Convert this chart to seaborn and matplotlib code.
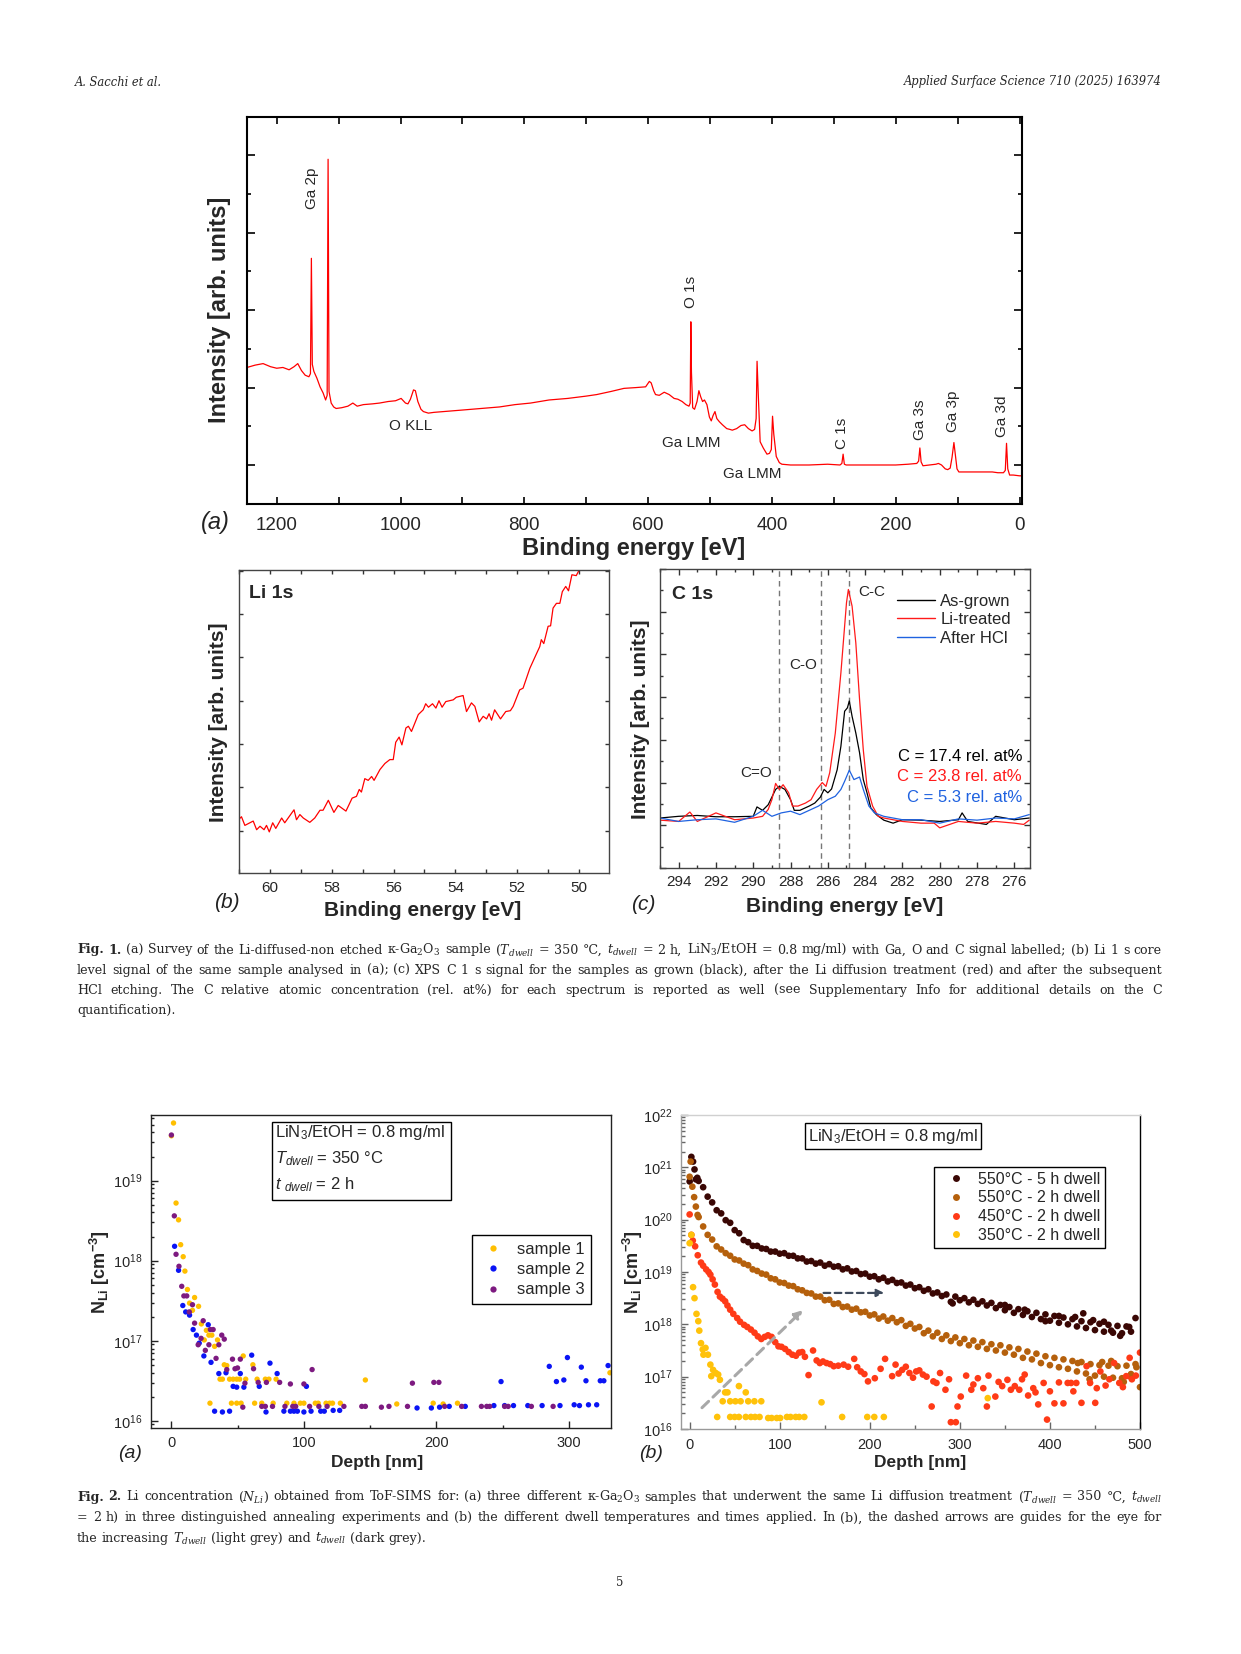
import matplotlib
matplotlib.use("Agg")
import numpy as np
import pandas as pd
import matplotlib.pyplot as plt
import matplotlib.patches as mpatches
from matplotlib.lines import Line2D
from matplotlib.ticker import MultipleLocator, LogLocator, NullFormatter, FixedLocator
import seaborn as sns

W, H = 1241, 1654

# ---------------- Fig. 1 data ----------------
# (a) survey: binding energy [eV], intensity [arb. units]
survey = [(1248, 1.26), (1235, 1.29), (1222, 1.31), (1210, 1.27), (1200, 1.25), (1190, 1.26),
          (1180, 1.23), (1172, 1.27), (1166, 1.31), (1160, 1.22), (1154, 1.16), (1148, 1.14),
          (1145.5, 1.18), (1144, 2.67), (1142.5, 1.30), (1140, 1.21), (1135, 1.12), (1130, 1.01),
          (1125, 0.93), (1121, 0.84), (1118.5, 0.90), (1117, 3.95), (1115.5, 0.95), (1112, 0.80),
          (1108, 0.75), (1104, 0.73), (1095, 0.74), (1085, 0.76), (1077, 0.80), (1070, 0.76),
          (1060, 0.78), (1045, 0.79), (1034, 0.80), (1020, 0.82), (1008, 0.83), (999, 0.86),
          (992, 0.80), (988, 0.79), (984, 0.85), (979, 0.97), (976, 0.96), (972, 0.82),
          (967, 0.72), (963, 0.69), (955, 0.67), (946, 0.68), (930, 0.69), (900, 0.71),
          (870, 0.73), (840, 0.75), (815, 0.78), (790, 0.80), (760, 0.84), (730, 0.86),
          (700, 0.89), (683, 0.91), (660, 0.95), (639, 0.99), (620, 1.00), (604, 1.01),
          (598, 1.08), (595, 1.06), (591, 0.96), (588, 0.91), (582, 0.90), (574, 0.94),
          (566, 0.91), (558, 0.86), (552, 0.85), (545, 0.82), (539, 0.78), (534, 0.76),
          (532, 0.80), (531, 1.85), (530, 1.20), (528, 0.74), (525, 0.72), (521, 0.82),
          (518, 0.96), (515, 0.88), (512, 0.82), (509, 0.84), (505, 0.78), (501, 0.62),
          (498, 0.57), (495, 0.64), (492, 0.69), (489, 0.60), (485, 0.56), (480, 0.52),
          (473, 0.47), (468, 0.46), (464, 0.45), (457, 0.47), (450, 0.51), (444, 0.52),
          (438, 0.47), (432, 0.44), (428, 0.46), (425.5, 0.60), (424, 1.34), (422, 0.90),
          (419, 0.30), (414, 0.22), (408, 0.14), (404, 0.15), (401, 0.20), (399, 0.63),
          (397, 0.40), (393, 0.11), (388, 0.03), (384, 0.01), (370, 0.00), (340, 0.00),
          (310, 0.01), (290, 0.00), (287, 0.02), (285, 0.14), (283, 0.01), (280, 0.00),
          (250, 0.00), (220, 0.00), (200, 0.00), (180, 0.01), (166, 0.02), (163, 0.05),
          (161, 0.22), (159, 0.04), (156, -0.01), (145, 0.00), (135, 0.01), (131, 0.02),
          (126, 0.00), (120, -0.05), (116, -0.06), (112, -0.04), (109, 0.10), (106, 0.29),
          (104, 0.15), (101, -0.05), (98, -0.09), (90, -0.09), (70, -0.09), (55, -0.09),
          (44, -0.09), (35, -0.10), (26, -0.10), (23, -0.07), (21, 0.28), (19, -0.05),
          (16, -0.13), (10, -0.13), (0, -0.14), (-4, -0.14)]

survey_labels = [("Ga 2p", 1143, 3.58, 90), ("O 1s", 530, 2.24, 90), ("O KLL", 983, 0.50, 0),
                 ("Ga LMM", 530, 0.29, 0), ("Ga LMM", 432, -0.11, 0), ("C 1s", 286, 0.41, 90),
                 ("Ga 3s", 160, 0.58, 90), ("Ga 3p", 108, 0.69, 90), ("Ga 3d", 28, 0.625, 90)]

# (b) Li 1s
li1s = [(60.99, 0.27), (60.92, 0.32), (60.81, 0.12), (60.54, 0.22), (60.43, 0.02), (60.32, 0.10),
        (60.19, 0.02), (60.11, 0.12), (60.02, -0.03), (59.91, 0.18), (59.81, 0.05), (59.62, 0.29),
        (59.52, 0.18), (59.35, 0.35), (59.22, 0.48), (59.14, 0.25), (59.03, 0.37), (58.92, 0.29),
        (58.71, 0.19), (58.55, 0.29), (58.38, 0.47), (58.28, 0.47), (58.11, 0.70), (57.93, 0.42),
        (57.79, 0.58), (57.54, 0.45), (57.34, 0.75), (57.20, 0.79), (57.11, 0.95), (57.04, 0.89),
        (56.93, 1.20), (56.82, 1.16), (56.71, 1.25), (56.63, 1.16), (56.44, 1.41), (56.28, 1.55),
        (56.12, 1.64), (56.01, 1.64), (55.93, 2.04), (55.82, 2.16), (55.73, 1.98), (55.60, 2.37),
        (55.52, 2.41), (55.42, 2.29), (55.20, 2.68), (55.04, 2.79), (54.96, 2.93), (54.87, 2.85),
        (54.74, 2.93), (54.63, 2.83), (54.53, 3.00), (54.43, 2.85), (54.31, 2.98), (54.07, 3.02),
        (53.97, 3.08), (53.75, 3.12), (53.64, 2.75), (53.48, 2.95), (53.37, 2.87), (53.23, 2.51),
        (53.10, 2.64), (52.99, 2.58), (52.91, 2.70), (52.83, 2.55), (52.73, 2.79), (52.54, 2.58),
        (52.37, 2.75), (52.22, 2.77), (52.13, 2.87), (51.92, 3.25), (51.81, 3.29), (51.59, 3.75),
        (51.38, 4.08), (51.27, 4.25), (51.22, 4.41), (51.14, 4.32), (51.00, 4.72), (50.92, 4.73),
        (50.84, 5.14), (50.73, 5.25), (50.62, 5.25), (50.54, 5.52), (50.43, 5.64), (50.34, 5.54),
        (50.23, 5.91), (50.09, 5.89), (49.98, 6.04)]

# (c) C 1s
c1s_grown = [(295, 0.17), (294, 0.21), (293, 0.23), (292, 0.20), (291, 0.20), (290, 0.21),
             (289.8, 0.43), (289.5, 0.35), (289.2, 0.48), (288.8, 0.84), (288.6, 0.91), (288.3, 0.84),
             (288.0, 0.60), (287.8, 0.35), (287.5, 0.35), (287.0, 0.45), (286.7, 0.52), (286.4, 0.66),
             (286.2, 0.84), (286.0, 0.76), (285.8, 0.85), (285.5, 1.30), (285.3, 1.85), (285.1, 2.67),
             (284.95, 2.75), (284.85, 2.91), (284.7, 2.55), (284.5, 2.16), (284.3, 1.70), (284.1, 1.07),
             (283.9, 0.76), (283.7, 0.41), (283.4, 0.25), (283.0, 0.12), (282.5, 0.05), (282.0, 0.13),
             (281, 0.12), (280, 0.09), (279, 0.13), (278.8, 0.29), (278.5, 0.09), (277.5, 0.02),
             (277, 0.21), (276, 0.13), (275.2, 0.17)]
c1s_li = [(295, 0.12), (294, 0.09), (293.4, 0.31), (293, 0.09), (292, 0.29), (291, 0.13), (290, 0.17),
          (289.5, 0.21), (289.2, 0.37), (289.0, 0.60), (288.8, 0.98), (288.6, 0.84), (288.4, 0.95),
          (288.1, 0.76), (287.9, 0.45), (287.6, 0.45), (287.2, 0.52), (286.9, 0.60), (286.6, 0.84),
          (286.3, 1.00), (286.1, 0.91), (285.9, 1.23), (285.6, 2.16), (285.3, 3.57), (285.0, 5.21),
          (284.9, 5.52), (284.7, 5.13), (284.5, 4.27), (284.3, 2.95), (284.1, 1.77), (283.9, 0.91),
          (283.6, 0.45), (283.3, 0.21), (283.0, 0.17), (282, 0.09), (281, 0.05), (280.3, 0.05),
          (280, -0.06), (279, 0.09), (278, 0.05), (277, 0.09), (276, 0.05), (275.5, 0.02), (275.2, 0.12)]
c1s_hcl = [(295, 0.17), (294, 0.09), (293, 0.13), (292, 0.15), (291, 0.07), (290, 0.21), (289.5, 0.35),
           (289, 0.21), (288.5, 0.29), (288, 0.33), (287.5, 0.25), (287, 0.35), (286.5, 0.45),
           (286.0, 0.60), (285.6, 0.68), (285.3, 0.84), (285.1, 1.03), (284.85, 1.29), (284.6, 1.07),
           (284.3, 1.13), (284.1, 0.84), (283.8, 0.45), (283.5, 0.29), (283.0, 0.21), (282, 0.13),
           (281, 0.13), (280, 0.05), (279, 0.15), (278, 0.12), (277, 0.17), (276, 0.15), (275.2, 0.25)]
c1s_names = ["As-grown", "Li-treated", "After HCl"]
c1s_colors = ["black", "#ff1a1a", "#1f62e0"]
c1s_conc = ["C = 17.4 rel. at%", "C = 23.8 rel. at%", "C = 5.3 rel. at%"]
c1s_peaks = [("C=O", 288.64, 289.82, 1.23), ("C-O", 286.35, 287.31, 3.75), ("C-C", 284.87, 283.65, 5.47)]
c1s_ticks = [294, 292, 290, 288, 286, 284, 282, 280, 278, 276]

# ---------------- Fig. 2 data: depth [nm], log10(N_Li [cm^-3]) ----------------
sample1 = [(0, 19.56), (1.6, 19.72), (3.5, 18.72), (5.4, 18.51), (7.0, 18.20), (8.9, 18.05), (10.2, 17.87),
           (12.1, 17.64), (13.7, 17.47), (15.9, 17.38), (17.5, 17.54), (20.5, 17.43), (22.6, 17.21),
           (24.8, 17.01), (26.4, 17.13), (28.3, 17.07), (30.5, 17.07), (32.6, 16.93), (34.8, 17.01),
           (36.7, 16.52), (38.5, 16.52), (39.9, 16.70), (41.8, 16.69), (43.9, 16.52), (46.6, 16.52),
           (49.3, 16.52), (51.5, 16.52), (54.2, 16.81), (56.1, 16.52), (61.5, 16.70), (64.7, 16.52),
           (70.9, 16.52), (73.6, 16.52), (79.0, 16.52), (29.1, 16.22), (45.3, 16.22), (49.3, 16.22),
           (52.6, 16.22), (62.8, 16.22), (68.2, 16.22), (76.8, 16.22), (87.1, 16.22), (92.5, 16.22),
           (97.3, 16.22), (100, 16.22), (108.6, 16.22), (110.8, 16.22), (116.7, 16.22), (119.4, 16.22),
           (121.6, 16.22), (127.5, 16.22), (146.4, 16.51), (170.1, 16.21), (197.6, 16.22), (205.1, 16.21),
           (215.9, 16.22), (331, 16.60)]
sample2 = [(2.4, 18.18), (5.4, 17.88), (8.6, 17.44), (10.8, 17.36), (13.7, 17.32), (16.4, 17.14), (18.9, 17.07),
           (21.0, 16.97), (24.5, 16.81), (27.8, 17.20), (29.9, 16.73), (35.8, 16.59), (41.2, 16.60),
           (46.6, 16.43), (49.3, 16.42), (52.0, 16.59), (54.7, 16.42), (60.6, 16.82), (66.3, 16.43),
           (74.4, 16.72), (79.8, 16.59), (101.9, 16.43), (32.6, 16.12), (38.5, 16.11), (43.9, 16.12),
           (71.4, 16.11), (84.9, 16.12), (89.8, 16.12), (92.5, 16.12), (95.1, 16.12), (100, 16.11),
           (105.4, 16.12), (112.7, 16.12), (115.4, 16.12), (122.1, 16.13), (127, 16.13), (185.4, 16.16),
           (196.2, 16.16), (202.4, 16.17), (209.7, 16.18), (221.8, 16.18), (243.4, 16.19), (251.5, 16.19),
           (258.2, 16.19), (269, 16.19), (279.8, 16.19), (293.3, 16.19), (304, 16.20), (308, 16.19),
           (314.8, 16.20), (321, 16.20), (248.8, 16.49), (285.2, 16.68), (290.6, 16.49), (296.2, 16.51),
           (298.9, 16.79), (309.4, 16.67), (312.9, 16.50), (323.7, 16.50), (326.4, 16.50), (329.6, 16.69)]
sample3 = [(0, 19.57), (2.2, 18.56), (3.5, 18.08), (5.7, 17.93), (7.8, 17.68), (9.4, 17.56), (11.6, 17.56),
           (13.5, 17.36), (15.9, 17.45), (17.5, 17.22), (20.2, 16.95), (22.4, 17.03), (24.0, 17.25),
           (25.6, 16.88), (28.3, 16.95), (29.4, 17.14), (31.5, 17.14), (33.7, 16.78), (35.8, 16.95),
           (38.0, 17.07), (39.9, 17.02), (41.8, 16.64), (46.1, 16.77), (48.0, 16.65), (49.9, 16.66),
           (52.0, 16.77), (55.5, 16.47), (62.0, 16.65), (65.5, 16.48), (71.7, 16.48), (81.7, 16.48),
           (89.8, 16.46), (100, 16.46), (106.2, 16.64), (53.9, 16.17), (68.2, 16.18), (70.9, 16.18),
           (76.3, 16.18), (85.7, 16.18), (91.6, 16.18), (93.8, 16.18), (104.3, 16.18), (111.3, 16.18),
           (117.5, 16.18), (130.2, 16.18), (143.7, 16.18), (146.4, 16.18), (158.5, 16.17), (164.2, 16.18),
           (178.2, 16.18), (181.9, 16.47), (198.1, 16.48), (201.9, 16.48), (206.2, 16.18), (219.1, 16.18),
           (234, 16.18), (238, 16.18), (240.2, 16.18), (251.5, 16.18), (254.2, 16.18), (271.7, 16.18),
           (288.1, 16.18)]
samples_a = {"sample 1": sample1, "sample 2": sample2, "sample 3": sample3}
colors_a = {"sample 1": "#ffbf00", "sample 2": "#0a14f5", "sample 3": "#7d1a80"}

t550_5h = [(0, 20.73), (1.9, 21.20), (3.8, 21.11), (5.4, 20.96), (6.9, 20.77), (8.5, 20.80), (10, 20.74),
           (15, 20.62), (20, 20.44), (25, 20.33), (30, 20.18), (35, 20.12), (40, 19.99), (45, 19.94),
           (50, 19.80), (55, 19.74), (60, 19.61), (65, 19.57), (70, 19.50), (75, 19.50), (80, 19.45),
           (85, 19.44), (90, 19.39), (95, 19.39), (100, 19.35), (105, 19.36), (110, 19.31), (115, 19.31),
           (120, 19.26), (125, 19.26), (130, 19.20), (135, 19.21), (140, 19.16), (145, 19.18), (150, 19.12),
           (155, 19.15), (160, 19.10), (165, 19.11), (170, 19.05), (175, 19.07), (180, 19.01), (185, 19.02),
           (190, 18.96), (195, 18.97), (200, 18.91), (205, 18.92), (210, 18.86), (215, 18.89), (220, 18.82),
           (225, 18.85), (230, 18.79), (235, 18.80), (240, 18.74), (245, 18.76), (250, 18.69), (255, 18.71),
           (260, 18.64), (265, 18.67), (270, 18.59), (275, 18.61), (280, 18.54), (285, 18.57), (290, 18.43),
           (295, 18.53), (300, 18.46), (305, 18.50), (310, 18.42), (315, 18.47), (320, 18.39), (325, 18.44),
           (330, 18.36), (335, 18.41), (340, 18.31), (345, 18.37), (350, 18.27), (355, 18.33), (360, 18.22),
           (365, 18.29), (370, 18.18), (375, 18.25), (380, 18.14), (385, 18.22), (390, 18.10), (395, 18.19),
           (400, 18.07), (405, 18.16), (410, 18.03), (415, 18.13), (420, 18.00), (425, 18.10), (430, 17.96),
           (435, 18.06), (440, 17.93), (445, 18.04), (450, 17.89), (455, 18.01), (460, 17.86), (465, 17.99),
           (470, 17.84), (475, 17.97), (480, 17.83), (485, 17.96), (490, 17.86), (495, 18.12), (437, 18.21),
           (292, 18.40), (410, 18.16), (460, 18.05), (478, 17.78), (488, 17.95), (468, 17.88), (448, 18.08),
           (428, 18.14), (395, 18.06), (372, 18.28), (350, 18.37)]
t550_2h = [(0, 20.82), (1.1, 21.11), (3, 20.63), (5, 20.43), (6.9, 20.25), (8.8, 20.09), (10, 20.05),
           (15, 19.87), (20, 19.71), (25, 19.62), (30, 19.49), (35, 19.43), (40, 19.36), (45, 19.31),
           (50, 19.24), (55, 19.22), (60, 19.16), (65, 19.13), (70, 19.05), (75, 19.02), (80, 18.97),
           (85, 18.95), (90, 18.88), (95, 18.86), (100, 18.80), (105, 18.79), (110, 18.74), (115, 18.73),
           (120, 18.67), (125, 18.65), (130, 18.60), (135, 18.59), (140, 18.53), (145, 18.53), (150, 18.46),
           (155, 18.47), (160, 18.39), (165, 18.40), (170, 18.33), (175, 18.34), (180, 18.28), (185, 18.30),
           (190, 18.23), (195, 18.24), (200, 18.17), (205, 18.19), (210, 18.11), (215, 18.15), (220, 18.07),
           (225, 18.12), (230, 18.04), (235, 18.08), (240, 17.97), (245, 18.01), (250, 17.92), (255, 17.95),
           (260, 17.83), (265, 17.88), (270, 17.77), (275, 17.84), (280, 17.72), (285, 17.79), (290, 17.68),
           (295, 17.75), (300, 17.64), (305, 17.72), (310, 17.60), (315, 17.69), (320, 17.57), (325, 17.66),
           (330, 17.53), (335, 17.62), (340, 17.50), (345, 17.60), (350, 17.46), (355, 17.56), (360, 17.42),
           (365, 17.53), (370, 17.36), (375, 17.48), (380, 17.33), (385, 17.44), (390, 17.26), (395, 17.39),
           (400, 17.22), (405, 17.36), (410, 17.18), (415, 17.33), (420, 17.15), (425, 17.30), (430, 17.10),
           (435, 17.28), (440, 17.06), (445, 17.24), (450, 17.02), (455, 17.22), (460, 17.00), (465, 17.21),
           (470, 16.98), (475, 17.20), (480, 16.97), (485, 17.21), (490, 16.99), (495, 17.24), (500, 16.80),
           (468, 17.30), (482, 16.90), (458, 17.28), (444, 16.95), (431, 17.26), (490, 17.05), (496, 17.18)]
t450_2h = [(0, 20.10), (1.9, 19.71), (3.5, 19.60), (6.1, 19.49), (9, 19.32), (12.6, 19.18), (15, 19.12),
           (18.3, 19.05), (21, 19.00), (23, 18.95), (25.5, 18.86), (28, 18.76), (31, 18.62), (33.6, 18.53),
           (36.5, 18.49), (39.4, 18.44), (42, 18.36), (45, 18.28), (48.5, 18.20), (52.8, 18.12), (56, 18.05),
           (60.4, 17.99), (64, 17.95), (68, 17.90), (72, 17.84), (75.7, 17.77), (79.5, 17.72), (83.3, 17.76),
           (87, 17.79), (91, 17.76), (95, 17.66), (98.6, 17.58), (102, 17.57), (106, 17.53), (110, 17.47),
           (114, 17.42), (118, 17.40), (121.6, 17.46), (125, 17.47), (128, 17.38), (132, 17.03), (137, 17.50),
           (141, 17.31), (144.5, 17.26), (148, 17.29), (152, 17.26), (156, 17.24), (160, 17.20), (165, 17.21),
           (171, 17.23), (176, 17.19), (182.7, 17.34), (186, 17.18), (190, 17.10), (194, 17.05), (198, 16.91),
           (205.6, 16.97), (212, 17.15), (217, 17.34), (224.8, 17.01), (228.6, 17.23), (232, 17.06),
           (236, 17.13), (240, 17.19), (244, 17.07), (248, 16.98), (251.5, 17.10), (255, 17.12), (259, 17.04),
           (263, 17.00), (268.7, 16.43), (270.6, 16.91), (274, 16.88), (278, 17.07), (284, 16.75),
           (288, 16.95), (290, 16.13), (295.5, 16.13), (297.4, 16.43), (301, 16.62), (307, 17.02),
           (312.7, 16.75), (315, 16.85), (320, 16.97), (326, 16.78), (330, 16.43), (331.8, 17.02),
           (339.4, 16.62), (343, 16.90), (347, 16.82), (352.8, 16.94), (356.6, 16.75), (361, 16.82),
           (366, 16.75), (369, 16.95), (372, 17.04), (375.8, 16.64), (381.5, 16.78), (384, 16.70),
           (387, 16.47), (393, 16.88), (396.8, 16.18), (400, 16.72), (405, 16.49), (410, 16.89), (415, 16.49),
           (419.7, 16.88), (423.5, 16.88), (426, 16.72), (429.3, 16.88), (435, 16.50), (440.7, 17.20),
           (444.6, 16.88), (450.3, 16.50), (452, 16.78), (456, 17.10), (461.8, 16.83), (466, 16.95),
           (471.3, 17.26), (477, 16.88), (481, 16.80), (484.7, 17.01), (488.5, 17.36), (491, 16.95),
           (495.4, 17.02), (500, 17.46)]
t350_2h = [(0, 19.55), (1.9, 19.71), (3.8, 18.71), (5.4, 18.50), (7.6, 18.20), (9.6, 18.06), (10.7, 17.88),
           (12.6, 17.64), (14.5, 17.52), (15.3, 17.42), (17.6, 17.55), (20.3, 17.42), (23, 17.23), (24, 17.01),
           (26, 17.13), (29, 17.07), (31.7, 17.04), (33.6, 16.94), (36.7, 16.53), (39.4, 16.70), (42, 16.70),
           (45, 16.53), (50.8, 16.53), (54.7, 16.82), (56.6, 16.53), (62.3, 16.70), (65, 16.53), (71.9, 16.53),
           (79.5, 16.53), (30.6, 16.23), (45, 16.23), (50, 16.23), (54.7, 16.23), (62.3, 16.23), (68, 16.23),
           (72.6, 16.23), (77.6, 16.23), (87.2, 16.21), (91, 16.21), (96.7, 16.21), (100.5, 16.21),
           (108, 16.23), (112, 16.23), (117.7, 16.23), (121.6, 16.23), (127.3, 16.23), (146.4, 16.51),
           (169.3, 16.23), (197.2, 16.23), (205, 16.23), (215.6, 16.23), (331, 16.59)]
series_b = {"550°C - 5 h dwell": t550_5h, "550°C - 2 h dwell": t550_2h,
            "450°C - 2 h dwell": t450_2h, "350°C - 2 h dwell": t350_2h}
colors_b = {"550°C - 5 h dwell": "#3a0704", "550°C - 2 h dwell": "#b5600c",
            "450°C - 2 h dwell": "#ff3a17", "350°C - 2 h dwell": "#ffc20a"}

cap1 = ["Fig. 1. (a) Survey of the Li-diffused-non etched κ-Ga$_2$O$_3$ sample ($T_{dwell}$ = 350 °C, $t_{dwell}$ = 2 h, LiN$_3$/EtOH = 0.8 mg/ml) with Ga, O and C signal labelled; (b) Li 1 s core",
        "level signal of the same sample analysed in (a); (c) XPS C 1 s signal for the samples as grown (black), after the Li diffusion treatment (red) and after the subsequent",
        "HCl etching. The C relative atomic concentration (rel. at%) for each spectrum is reported as well (see Supplementary Info for additional details on the C",
        "quantification)."]
cap2 = ["Fig. 2. Li concentration ($N_{Li}$) obtained from ToF-SIMS for: (a) three different κ-Ga$_2$O$_3$ samples that underwent the same Li diffusion treatment ($T_{dwell}$ = 350 °C, $t_{dwell}$",
        "= 2 h) in three distinguished annealing experiments and (b) the different dwell temperatures and times applied. In (b), the dashed arrows are guides for the eye for",
        "the increasing $T_{dwell}$ (light grey) and $t_{dwell}$ (dark grey)."]

# ---------------- style ----------------
sns.set_style("ticks")
plt.rcParams["font.family"] = ["Liberation Sans", "DejaVu Sans"]
plt.rcParams["mathtext.fontset"] = "custom"
plt.rcParams["mathtext.rm"] = "Liberation Sans"
plt.rcParams["mathtext.it"] = "Liberation Sans:italic"
plt.rcParams["mathtext.bf"] = "Liberation Sans:bold"

fig = plt.figure(figsize=(W / 100, H / 100), dpi=100)
fig.patch.set_facecolor("white")


def add_box(x0, y0, x1, y1):
    return fig.add_axes([x0 / W, 1 - y1 / H, (x1 - x0) / W, (y1 - y0) / H])


def ftext(x, y, s, **kw):
    return fig.text(x / W, 1 - y / H, s, **kw)


def frame(ax, color, lw):
    for sp in ax.spines.values():
        sp.set_visible(True)
        sp.set_color(color)
        sp.set_linewidth(lw)


def xy(points):
    return [p[0] for p in points], [p[1] for p in points]


# ---------------- Fig. 1 (a) ----------------
ax = add_box(247, 117, 1022, 504)
bx, by = xy(survey)
sns.lineplot(x=bx, y=by, ax=ax, color="#ff0000", lw=0.9, sort=False, estimator=None)
ax.set_xlim(1248, -4)
ax.set_ylim(-0.504, 4.496)
ax.xaxis.set_major_locator(MultipleLocator(200))
ax.xaxis.set_minor_locator(MultipleLocator(100))
ax.yaxis.set_major_locator(MultipleLocator(1))
ax.yaxis.set_minor_locator(MultipleLocator(0.5))
ax.tick_params(which="both", direction="in", top=True, right=True, labelleft=False, width=1.2, color="black")
ax.tick_params(axis="x", which="both", length=5, labelsize=13.5, pad=9)
ax.tick_params(axis="y", which="major", length=6)
ax.tick_params(axis="y", which="minor", length=3)
frame(ax, "black", 1.5)
ax.set_xlabel("")
ax.set_ylabel("")
for name, ex, ey, rot in survey_labels:
    ax.text(ex, ey, name, rotation=rot, ha="center", va="center", fontsize=11)
ftext(220, 310, "Intensity [arb. units]", rotation=90, ha="center", va="center", fontsize=17, fontweight="bold")
ftext(634, 548, "Binding energy [eV]", ha="center", va="center", fontsize=17, fontweight="bold")
ftext(215, 523, "(a)", ha="center", va="center", fontsize=17, style="italic", color="#222222")

# ---------------- Fig. 1 (b) ----------------
ax = add_box(239, 570, 609, 873)
lx, ly = xy(li1s)
sns.lineplot(x=lx, y=ly, ax=ax, color="#ff0000", lw=0.9, sort=False, estimator=None)
ax.set_xlim(61.0, 49.03)
ax.set_ylim(-0.98, 6.02)
ax.xaxis.set_major_locator(MultipleLocator(2))
ax.xaxis.set_minor_locator(MultipleLocator(1))
ax.yaxis.set_major_locator(MultipleLocator(1))
ax.tick_params(which="both", direction="in", top=True, right=True, labelleft=False, length=3,
               width=1, color="#333333", labelsize=11, pad=6)
frame(ax, "#444444", 1.0)
ax.set_xlabel("")
ax.set_ylabel("")
ftext(249, 593, "Li 1s", ha="left", va="center", fontsize=14, fontweight="bold")
ftext(219, 722, "Intensity [arb. units]", rotation=90, ha="center", va="center", fontsize=15, fontweight="bold")
ftext(423, 910, "Binding energy [eV]", ha="center", va="center", fontsize=15, fontweight="bold")
ftext(227, 902, "(b)", ha="center", va="center", fontsize=15, style="italic", color="#222222")

# ---------------- Fig. 1 (c) ----------------
axc = add_box(660, 569, 1030, 868)
for pts, name, col in zip([c1s_grown, c1s_li, c1s_hcl], c1s_names, c1s_colors):
    cx, cy = xy(pts)
    sns.lineplot(x=cx, y=cy, ax=axc, color=col, lw=0.9, sort=False, estimator=None)
for _, xv, _, _ in c1s_peaks:
    axc.axvline(xv, color="#777777", ls=(0, (4, 3)), lw=1.0, zorder=1)
axc.set_xlim(295.0, 275.16)
axc.set_ylim(-1.0, 6.0)
axc.xaxis.set_major_locator(FixedLocator(c1s_ticks))
axc.set_xticklabels([str(t) for t in c1s_ticks])
axc.xaxis.set_minor_locator(MultipleLocator(1))
axc.yaxis.set_major_locator(MultipleLocator(1))
axc.yaxis.set_minor_locator(MultipleLocator(0.5))
axc.tick_params(which="both", direction="in", top=True, right=True, bottom=True, left=True,
                labelleft=False, labelbottom=True, width=1, color="#333333", labelsize=11, pad=5)
axc.tick_params(which="major", length=4)
axc.tick_params(which="minor", length=2.5)
frame(axc, "#444444", 1.0)
axc.set_xlabel("")
axc.set_ylabel("")
for name, _, tx, ty in c1s_peaks:
    axc.text(tx, ty, name, ha="center", va="center", fontsize=11)
handles = [Line2D([], [], color=c, lw=1.0) for c in c1s_colors]
axc.legend(handles, c1s_names, loc="upper left", bbox_to_anchor=(897 / W, 1 - 594 / H),
           bbox_transform=fig.transFigure, frameon=False, fontsize=12, handlelength=2.3,
           handletextpad=0.3, labelspacing=0.2, borderpad=0, borderaxespad=0)
for txt, col, yy in zip(c1s_conc, c1s_colors, [756, 777, 797]):
    ftext(1022, yy, txt, ha="right", va="center", fontsize=12, color=col)
ftext(672, 595, "C 1s", ha="left", va="center", fontsize=14, fontweight="bold")
ftext(641, 719, "Intensity [arb. units]", rotation=90, ha="center", va="center", fontsize=15, fontweight="bold")
ftext(845, 907, "Binding energy [eV]", ha="center", va="center", fontsize=15, fontweight="bold")
ftext(643, 905, "(c)", ha="center", va="center", fontsize=15, style="italic", color="#222222")

# ---------------- Fig. 2 (a) ----------------
ax = add_box(151, 1115, 611, 1428)
rows = []
for name, pts in samples_a.items():
    for d, lg in pts:
        rows.append({"depth": d, "N": 10 ** lg, "sample": name})
dfa = pd.DataFrame(rows)
sns.scatterplot(data=dfa, x="depth", y="N", hue="sample", palette=colors_a, s=15, linewidth=0,
                legend=False, ax=ax)
ax.set_yscale("log")
ax.set_xlim(-15.4, 331.8)
ax.set_ylim(10 ** 15.91, 10 ** 19.82)
ax.xaxis.set_major_locator(MultipleLocator(100))
ax.xaxis.set_minor_locator(MultipleLocator(50))
ax.yaxis.set_major_locator(LogLocator(base=10))
ax.yaxis.set_minor_locator(LogLocator(base=10, subs=np.arange(2, 10)))
ax.yaxis.set_minor_formatter(NullFormatter())
ax.tick_params(which="both", direction="in", labelsize=10.5, pad=6, color="#222222", width=1)
ax.tick_params(which="major", length=5)
ax.tick_params(which="minor", length=2.5)
frame(ax, "#222222", 1.0)
ax.set_xlabel("")
ax.set_ylabel("")
handles = [Line2D([], [], ls="none", marker="o", ms=4.5, mfc=c, mec="none") for c in colors_a.values()]
leg = ax.legend(handles, list(colors_a.keys()), loc="upper left", bbox_to_anchor=(472 / W, 1 - 1235 / H),
                bbox_transform=fig.transFigure, fontsize=12, frameon=True, fancybox=False,
                edgecolor="black", framealpha=1, borderpad=0.4, handlelength=1.7, handletextpad=0.6,
                labelspacing=0.32, borderaxespad=0)
leg.get_frame().set_linewidth(1.0)
fig.add_artist(mpatches.Rectangle((272 / W, 1 - 1200 / H), 179 / W, 78 / H, transform=fig.transFigure,
                                  fill=False, ec="black", lw=1.0))
ftext(275, 1133, "LiN$_3$/EtOH = 0.8 mg/ml", ha="left", va="center", fontsize=12)
ftext(275, 1159, "$T_{dwell}$ = 350 °C", ha="left", va="center", fontsize=12)
ftext(275, 1185, r"$t\ _{dwell}$ = 2 h", ha="left", va="center", fontsize=12)
ftext(100, 1272, r"$\mathbf{N_{Li}\ [cm^{-3}]}$", rotation=90, ha="center", va="center", fontsize=13)
ftext(377, 1462, "Depth [nm]", ha="center", va="center", fontsize=12.5, fontweight="bold")
ftext(130, 1453, "(a)", ha="center", va="center", fontsize=14, style="italic", color="#222222")

# ---------------- Fig. 2 (b) ----------------
ax = add_box(681, 1115, 1140, 1429)
rows = []
for name, pts in series_b.items():
    for d, lg in pts:
        rows.append({"depth": d, "N": 10 ** lg, "series": name})
dfb = pd.DataFrame(rows)
sns.scatterplot(data=dfb, x="depth", y="N", hue="series", palette=colors_b, s=23, linewidth=0,
                legend=False, ax=ax)
ax.set_yscale("log")
ax.set_xlim(-9.6, 500)
ax.set_ylim(1e16, 1e22)
ax.xaxis.set_major_locator(MultipleLocator(100))
ax.xaxis.set_minor_locator(MultipleLocator(50))
ax.yaxis.set_major_locator(LogLocator(base=10))
ax.yaxis.set_minor_locator(LogLocator(base=10, subs=np.arange(2, 10)))
ax.yaxis.set_minor_formatter(NullFormatter())
ax.tick_params(which="both", direction="in", labelsize=10.5, pad=6.5, color="#666666", width=1)
ax.tick_params(which="major", length=5)
ax.tick_params(which="minor", length=3)
frame(ax, "#999999", 1.0)
ax.spines["top"].set_color("#d0d0d0")
ax.spines["right"].set_color("black")
ax.set_xlabel("")
ax.set_ylabel("")
ax.annotate("", xy=(128, 10 ** 18.31), xytext=(11.5, 10 ** 16.37),
            arrowprops=dict(arrowstyle="-|>", color="#a8a8a8", lw=2.2, ls=(0, (3, 2)), mutation_scale=12))
ax.annotate("", xy=(219, 10 ** 18.60), xytext=(145.6, 10 ** 18.60),
            arrowprops=dict(arrowstyle="-|>", color="#3e4a5c", lw=1.6, ls=(0, (3, 2)), mutation_scale=11))
handles = [Line2D([], [], ls="none", marker="o", ms=5, mfc=c, mec="none") for c in colors_b.values()]
leg = ax.legend(handles, list(colors_b.keys()), loc="upper left", bbox_to_anchor=(934 / W, 1 - 1167 / H),
                bbox_transform=fig.transFigure, fontsize=11.5, frameon=True, fancybox=False,
                edgecolor="black", framealpha=1, borderpad=0.3, handlelength=2.15, handletextpad=0.3,
                labelspacing=0.23, borderaxespad=0)
leg.get_frame().set_linewidth(1.0)
ftext(893, 1136, "LiN$_3$/EtOH = 0.8 mg/ml", ha="center", va="center", fontsize=12,
      bbox=dict(boxstyle="square,pad=0.2", fc="white", ec="black", lw=1.0))
ftext(633, 1272, r"$\mathbf{N_{Li}\ [cm^{-3}]}$", rotation=90, ha="center", va="center", fontsize=13)
ftext(920, 1462, "Depth [nm]", ha="center", va="center", fontsize=12.5, fontweight="bold")
ftext(651, 1453, "(b)", ha="center", va="center", fontsize=14, style="italic", color="#222222")

# ---------------- page text ----------------
serif = dict(family="DejaVu Serif", math_fontfamily="dejavuserif", va="center")
ftext(75, 82, "A. Sacchi et al.", ha="left", fontsize=8.3, style="italic", **serif)
ftext(1162, 82, "Applied Surface Science 710 (2025) 163974", ha="right", fontsize=8.3, style="italic", **serif)
ftext(620, 1583, "5", ha="center", fontsize=8.3, **serif)

renderer = fig.canvas.get_renderer()


def justify(y, line, last=False, x0=77, x1=1162, size=9.1):
    words = line.split(" ")
    arts = []
    for i, w in enumerate(words):
        bold = words[0] == "Fig." and i < 2
        arts.append(ftext(x0, y, w, ha="left", fontsize=size, fontweight="bold" if bold else "normal", **serif))
    widths = [t.get_window_extent(renderer).width for t in arts]
    if last or len(words) < 2:
        gap = size * 100 / 72 * 0.32
    else:
        gap = max((x1 - x0 - sum(widths)) / (len(words) - 1), 1.5)
    x = x0
    for t, w in zip(arts, widths):
        t.set_x(x / W)
        x += w + gap


for i, line in enumerate(cap1):
    justify(950 + 20.3 * i, line, last=(i == len(cap1) - 1))
for i, line in enumerate(cap2):
    justify(1497 + 20.8 * i, line, last=(i == len(cap2) - 1))

fig.savefig("out.png", dpi=100, facecolor="white")
